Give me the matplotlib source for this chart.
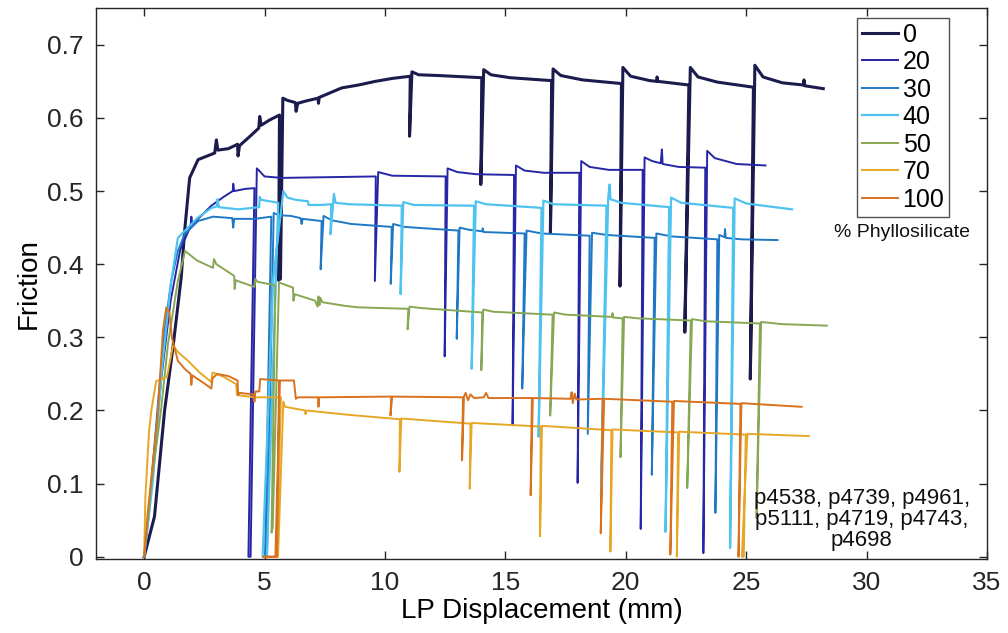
import matplotlib
matplotlib.use("Agg")
import matplotlib.pyplot as plt

plt.rcParams['font.family'] = ['Liberation Sans', 'DejaVu Sans']

# Friction vs load point displacement, one curve per % phyllosilicate
labels = ["0", "20", "30", "40", "50", "70", "100"]
colors = ["#1b1b4d", "#2626a6", "#1f78c4", "#4fc3ef", "#87a754", "#e6a726", "#d8721e"]

x_0 = [0, 0.43, 0.85, 1.2, 1.54, 1.68, 1.89, 2.24, 2.93, 3.0, 3.06, 3.5, 3.88, 3.9, 3.96, 4.4, 4.76, 4.8,
       4.86, 5.2, 5.62, 5.58, 5.66, 5.76, 5.95, 6.28, 6.31, 6.38, 6.7, 7.22, 7.24, 7.27, 8.2, 8.9, 9.6, 10.3,
       11.05, 11.02, 11.12, 11.4, 12.2, 14.02, 13.98, 14.1, 14.4, 15.2, 16.92, 16.87, 16.98, 17.3, 18.2,
       19.82, 19.76, 19.88, 20.2, 21.0, 21.28, 21.3, 21.33, 22.62, 22.45, 22.68, 23.0, 23.8, 25.3, 25.17,
       25.36, 25.7, 26.5, 27.38, 27.4, 27.43, 28.2]
y_0 = [0, 0.055, 0.2, 0.287, 0.382, 0.445, 0.518, 0.543, 0.552, 0.57, 0.556, 0.558, 0.564, 0.548, 0.562,
       0.575, 0.586, 0.602, 0.59, 0.597, 0.604, 0.378, 0.38, 0.627, 0.624, 0.621, 0.609, 0.62, 0.623, 0.627,
       0.62, 0.628, 0.641, 0.645, 0.65, 0.654, 0.657, 0.575, 0.663, 0.659, 0.658, 0.655, 0.509, 0.666,
       0.659, 0.655, 0.651, 0.443, 0.667, 0.658, 0.652, 0.647, 0.37, 0.669, 0.657, 0.651, 0.65, 0.656,
       0.65, 0.645, 0.307, 0.669, 0.656, 0.649, 0.642, 0.243, 0.672, 0.656, 0.648, 0.645, 0.652, 0.644,
       0.64]

x_20 = [0, 0.2, 0.35, 0.7, 1.1, 1.5, 1.93, 1.96, 2.0, 2.79, 3.3, 3.68, 3.7, 3.74, 4.2, 4.58, 4.33, 4.42,
        4.68, 4.8, 5.0, 5.7, 9.62, 9.58, 9.72, 10.3, 12.52, 12.48, 12.6, 13.0, 13.8, 15.36, 15.3, 15.44,
        15.8, 16.6, 18.07, 18.0, 18.15, 18.5, 19.3, 20.7, 20.62, 20.78, 21.1, 21.45, 21.5, 21.53, 22.2,
        23.3, 23.22, 23.38, 23.7, 24.6, 25.8]
y_20 = [0, 0.06, 0.118, 0.24, 0.35, 0.42, 0.452, 0.465, 0.454, 0.48, 0.492, 0.5, 0.51, 0.5, 0.503, 0.504,
        0.0, 0.0, 0.531, 0.527, 0.52, 0.518, 0.52, 0.377, 0.526, 0.521, 0.52, 0.274, 0.531, 0.526, 0.523,
        0.522, 0.18, 0.535, 0.528, 0.525, 0.525, 0.101, 0.541, 0.533, 0.529, 0.529, 0.038, 0.546, 0.541,
        0.538, 0.557, 0.537, 0.533, 0.532, 0.005, 0.555, 0.545, 0.537, 0.535]

x_30 = [0, 0.3, 0.6, 0.85, 1.125, 1.4, 1.68, 2.24, 2.86, 3.66, 3.7, 3.74, 4.6, 5.28, 5.02, 5.1, 5.38, 5.6,
        6.1, 6.5, 6.54, 6.58, 7.37, 7.33, 7.45, 7.8, 8.6, 10.28, 10.24, 10.34, 10.8, 13.05, 12.98, 13.1,
        13.5, 14.04, 14.06, 14.09, 15.8, 15.7, 15.88, 16.5, 18.5, 18.42, 18.6, 19.2, 21.2, 21.08, 21.27,
        21.9, 23.8, 23.72, 23.88, 24.1, 24.12, 24.15, 24.8, 26.3]
y_30 = [0, 0.1, 0.22, 0.31, 0.377, 0.418, 0.441, 0.459, 0.465, 0.463, 0.45, 0.462, 0.462, 0.465, 0.0, 0.0,
        0.47, 0.467, 0.466, 0.463, 0.455, 0.462, 0.459, 0.393, 0.466, 0.46, 0.455, 0.451, 0.373, 0.455,
        0.451, 0.446, 0.298, 0.45, 0.447, 0.445, 0.449, 0.444, 0.442, 0.23, 0.446, 0.442, 0.439, 0.168,
        0.443, 0.44, 0.436, 0.112, 0.442, 0.438, 0.434, 0.06, 0.44, 0.437, 0.448, 0.436, 0.434, 0.433]

x_40 = [0, 0.35, 0.75, 1.1, 1.4, 2.24, 2.8, 3.02, 3.05, 3.1, 3.9, 4.5, 4.78, 4.8, 4.86, 5.57, 5.1, 4.92,
        5.36, 5.78, 5.95, 6.3, 6.8, 6.83, 7.3, 7.77, 7.74, 7.88, 7.95, 8.5, 10.7, 10.65, 10.76, 11.2, 13.7,
        13.6, 13.77, 14.2, 16.5, 16.38, 16.58, 17.0, 19.2, 18.97, 19.27, 19.33, 19.36, 19.8, 21.8, 21.65,
        21.88, 22.3, 24.46, 24.33, 24.52, 25.0, 26.9]
y_40 = [0, 0.1, 0.26, 0.37, 0.436, 0.464, 0.477, 0.479, 0.489, 0.478, 0.475, 0.477, 0.478, 0.492, 0.488,
        0.484, 0.0, 0.0, 0.38, 0.5, 0.491, 0.488, 0.486, 0.481, 0.481, 0.482, 0.441, 0.496, 0.484, 0.482,
        0.48, 0.359, 0.485, 0.481, 0.48, 0.257, 0.486, 0.482, 0.477, 0.164, 0.487, 0.482, 0.48, 0.084,
        0.491, 0.509, 0.489, 0.484, 0.478, 0.034, 0.491, 0.484, 0.477, 0.012, 0.49, 0.483, 0.475]

x_50 = [0, 0.3, 0.7, 0.99, 1.4, 1.7, 2.2, 2.86, 2.9, 3.0, 3.74, 3.76, 3.8, 4.58, 4.62, 4.7, 5.45, 5.29,
        5.34, 5.6, 6.18, 6.2, 6.26, 7.1, 7.2, 7.24, 7.28, 7.32, 7.4, 8.35, 8.9, 10.97, 10.94, 11.02, 11.5,
        14.04, 14.0, 14.08, 14.5, 16.96, 16.86, 17.02, 17.5, 19.42, 19.45, 19.48, 19.87, 19.78, 19.93,
        20.5, 22.7, 22.55, 22.75, 23.3, 25.57, 25.43, 25.62, 26.5, 28.35]
y_50 = [0, 0.1, 0.2, 0.291, 0.377, 0.418, 0.405, 0.395, 0.407, 0.4, 0.384, 0.366, 0.378, 0.369, 0.38,
        0.376, 0.371, 0.033, 0.04, 0.375, 0.368, 0.35, 0.359, 0.35, 0.342, 0.356, 0.344, 0.354, 0.348,
        0.343, 0.341, 0.339, 0.311, 0.342, 0.34, 0.334, 0.255, 0.338, 0.335, 0.331, 0.193, 0.334, 0.331,
        0.328, 0.333, 0.327, 0.326, 0.136, 0.328, 0.326, 0.323, 0.094, 0.325, 0.322, 0.319, 0.053, 0.321,
        0.318, 0.316]

x_70 = [0, 0.05, 0.2, 0.3, 0.5, 0.95, 1.2, 1.4, 1.82, 2.3, 2.79, 2.84, 3.3, 3.82, 3.86, 4.6, 5.68, 5.5,
        5.56, 5.78, 5.85, 6.68, 6.7, 6.74, 8.5, 10.62, 10.6, 10.68, 13.55, 13.52, 13.6, 16.47, 16.44,
        16.52, 19.4, 19.36, 19.45, 22.17, 22.12, 22.22, 24.98, 24.9, 24.82, 25.05, 27.6]
y_70 = [0, 0.08, 0.17, 0.2, 0.24, 0.246, 0.289, 0.28, 0.268, 0.252, 0.239, 0.252, 0.246, 0.236, 0.221,
        0.218, 0.218, 0.0, 0.0, 0.212, 0.205, 0.2, 0.195, 0.2, 0.194, 0.188, 0.116, 0.189, 0.182, 0.093,
        0.183, 0.178, 0.028, 0.179, 0.173, 0.007, 0.174, 0.17, 0.0, 0.171, 0.167, 0.0, 0.0, 0.168, 0.165]

x_100 = [0, 0.15, 0.36, 0.57, 0.78, 0.92, 1.05, 1.15, 1.4, 1.68, 1.93, 1.96, 2.0, 2.5, 2.79, 2.84, 3.04,
         3.5, 3.88, 3.9, 3.96, 4.55, 4.58, 4.62, 4.78, 4.82, 5.6, 5.52, 4.95, 5.45, 5.64, 6.22, 6.3, 6.4,
         7.22, 7.24, 7.27, 10.26, 10.23, 10.3, 13.24, 13.2, 13.28, 13.35, 13.45, 13.55, 13.7, 14.1, 14.2,
         14.3, 16.1, 16.05, 16.14, 17.7, 17.75, 17.8, 17.88, 17.95, 19.04, 18.96, 19.1, 21.93, 21.85, 22.0,
         24.76, 24.68, 24.8, 27.3]
y_100 = [0, 0.06, 0.128, 0.196, 0.309, 0.341, 0.334, 0.3, 0.268, 0.257, 0.25, 0.235, 0.248, 0.237, 0.23,
         0.244, 0.25, 0.247, 0.241, 0.221, 0.224, 0.222, 0.212, 0.226, 0.226, 0.243, 0.241, 0.0, 0.0, 0.0,
         0.241, 0.241, 0.216, 0.218, 0.218, 0.205, 0.218, 0.219, 0.193, 0.219, 0.218, 0.132, 0.219, 0.224,
         0.214, 0.222, 0.217, 0.218, 0.224, 0.217, 0.217, 0.084, 0.217, 0.216, 0.225, 0.21, 0.223, 0.215,
         0.216, 0.032, 0.216, 0.212, 0.003, 0.213, 0.209, 0.0, 0.21, 0.205]

xs = [x_0, x_20, x_30, x_40, x_50, x_70, x_100]
ys = [y_0, y_20, y_30, y_40, y_50, y_70, y_100]
widths = [2.2, 1.4, 1.4, 1.6, 1.4, 1.4, 1.4]

run_ids = "p4538, p4739, p4961,\np5111, p4719, p4743,\np4698"

fig = plt.figure(figsize=(10.08, 6.33), dpi=100)
ax = fig.add_axes([0.0952, 0.117, 0.884, 0.870])

for x, y, c, lab, w in zip(xs, ys, colors, labels, widths):
    ax.plot(x, y, color=c, lw=w, label=lab)

ax.set_xlim(-2, 35)
ax.set_ylim(-0.003, 0.75)
ax.set_xticks(range(0, 36, 5))
ax.set_yticks([0, 0.1, 0.2, 0.3, 0.4, 0.5, 0.6, 0.7])
ax.set_yticklabels(["0", "0.1", "0.2", "0.3", "0.4", "0.5", "0.6", "0.7"])
ax.tick_params(direction="in", top=True, right=True, length=6, width=1,
               labelsize=19, colors="#262626", pad=9)
for s in ax.spines.values():
    s.set_color("#262626")
    s.set_linewidth(1)

ax.set_xlabel("LP Displacement (mm)", fontsize=20, labelpad=2)
ax.set_ylabel("Friction", fontsize=20, labelpad=4)

# legend box sits inside the axes, top right
leg = ax.legend(loc="upper left", bbox_to_anchor=(0.850, 0.972), bbox_transform=fig.transFigure,
                fontsize=18, frameon=True, fancybox=False, handlelength=1.45, handletextpad=0.18,
                labelspacing=0.14, borderpad=0.2, borderaxespad=0)
leg.get_frame().set_edgecolor("#262626")
leg.get_frame().set_linewidth(1)

fig.text(0.895, 0.633, "% Phyllosilicate", fontsize=14, ha="center", va="center", color="#111111")
fig.text(0.855, 0.179, run_ids, fontsize=16, ha="center", va="center", linespacing=1.0,
         color="#111111")

fig.savefig("out.png", dpi=100)
